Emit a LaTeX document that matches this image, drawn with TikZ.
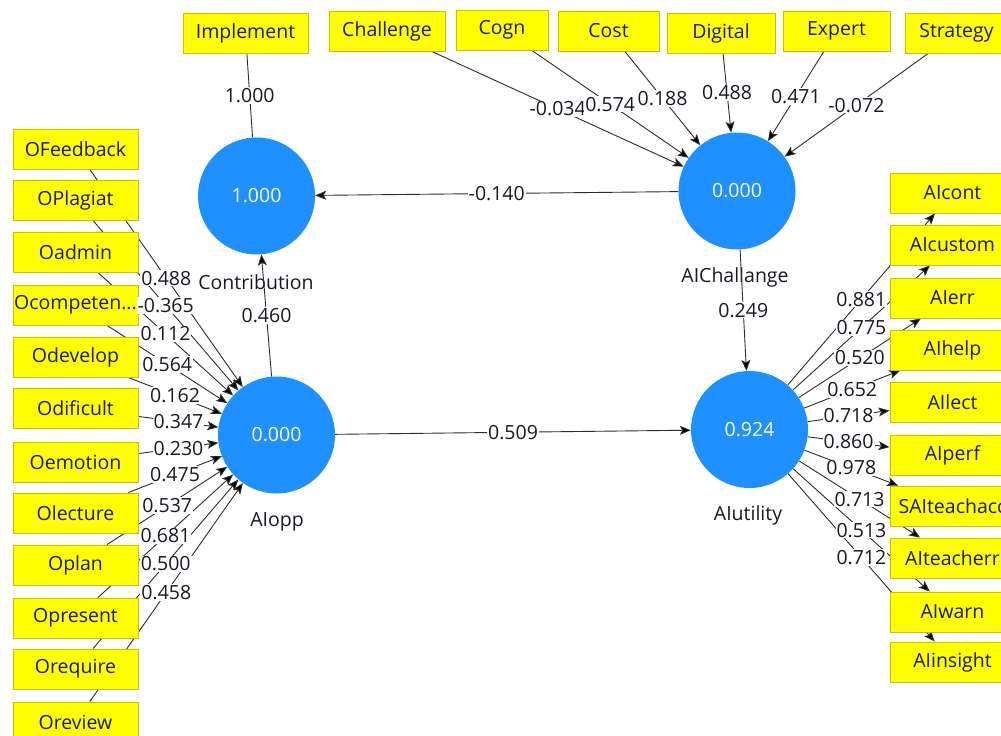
\documentclass[tikz,border=0pt]{standalone}
\usepackage{fontspec}
\setmainfont{Open Sans}
\usetikzlibrary{arrows.meta}
\definecolor{lvblue}{RGB}{30,144,255}
\definecolor{boxyellow}{RGB}{255,255,0}
\definecolor{boxborder}{RGB}{196,196,0}
\definecolor{linegray}{RGB}{45,45,45}
\definecolor{txtdark}{RGB}{25,25,35}
\newcommand\ocomptext{Ocompeten...}
\pgfdeclarelayer{back}
\pgfsetlayers{back,main}
\tikzset{
  ind/.style={draw=boxborder, line width=1pt, fill=boxyellow, minimum height=40pt, inner sep=0pt, text=txtdark},
  lv/.style={circle, fill=lvblue, minimum size=117pt, inner sep=0pt, text=white},
  lvname/.style={inner sep=0pt, text=txtdark},
  lbl/.style={fill=white, inner sep=1pt, text=txtdark},
  conn/.style={draw=linegray, line width=0.9pt},
  arr/.style={conn, -{Stealth[length=11pt,width=9pt,inset=2.5pt,fill=black]}}
}
\begin{document}
\begin{tikzpicture}[x=1pt,y=-1pt, font=\fontsize{19.5}{23}\selectfont]
\useasboundingbox (0,0) rectangle (1001,736);
\clip (0,0) rectangle (1001,736);
% latent variables
\node[lv] (contr) at (256.5,196) {1.000};
\node[lv] (aich) at (737,191) {0.000};
\node[lv] (aiopp) at (276.5,435) {0.000};
\node[lv] (aiut) at (749.5,429.5) {0.924};
% top indicators
\node[ind, minimum width=125pt] (imp) at (245.5,33) {Implement};
\node[ind, minimum width=116pt] (chal) at (387,31) {Challenge};
\node[ind, minimum width=92pt] (cogn) at (502,30) {Cogn};
\node[ind, minimum width=101pt] (cost) at (608.5,31) {Cost};
\node[ind, minimum width=108pt] (digi) at (721,33) {Digital};
\node[ind, minimum width=107pt] (expe) at (836.5,31) {Expert};
\node[ind, minimum width=103pt] (stra) at (956.5,33) {Strategy};
% left indicators
\foreach \n/\y/\t in {l1/149/OFeedback, l2/200/OPlagiat, l3/252/Oadmin, l4/305/\ocomptext, l5/357/Odevelop, l6/408/Odificult, l7/462/Oemotion, l8/513/Olecture, l9/565/Oplan, l10/618/Opresent, l11/669/Orequire, l12/722/Oreview}
  \node[ind, minimum width=125pt] (\n) at (75.5,\y) {\t};
% right indicators
\foreach \n/\y/\t in {r1/193/AIcont, r2/245/AIcustom, r3/298/AIerr, r4/350/AIhelp, r5/402/AIlect, r6/455/AIperf, r7/506/SAIteachacc, r8/558/AIteacherr, r9/612/AIwarn, r10/662/AIinsight}
  \node[ind, minimum width=125pt] (\n) at (952.5,\y) {\t};
\begin{pgfonlayer}{back}
% construct names (beneath connectors)
\node[lvname] (contrn) at (256,282) {Contribution};
\node[lvname] (aichn) at (735,277) {AIChallange};
\node[lvname] (aioppn) at (277,522) {AIopp};
\node[lvname] (aiutn) at (748,515) {AIutility};
% connectors
\draw[conn] (imp) -- coordinate[midway] (m-imp) (contr);
\foreach \n in {chal,cogn,cost,digi,expe,stra}
  \draw[arr] (\n) -- coordinate[midway] (m-\n) (aich);
\foreach \n in {l1,l2,l3,l4,l5,l6,l7,l8,l9,l10,l11,l12}
  \draw[arr] (\n) -- coordinate[midway] (m-\n) (aiopp);
\foreach \n in {r1,r2,r3,r4,r5,r6,r7,r8,r9,r10}
  \draw[arr] (aiut) -- coordinate[midway] (m-\n) (\n);
\draw[arr] (aich) -- coordinate[midway] (m-cc) (contr);
\draw[arr] (aiopp) -- coordinate[midway] (m-oc) (contr);
\draw[arr] (aiopp) -- coordinate[midway] (m-ou) (aiut);
\draw[arr] (aich) -- coordinate[midway] (m-cu) (aiut);
\end{pgfonlayer}
% path labels
\node[lbl] at (m-imp) {1.000};
\foreach \n/\t in {chal/-0.034, cogn/0.574, cost/0.188, digi/0.488, expe/0.471, stra/-0.072}
  \node[lbl] at (m-\n) {\t};
\foreach \n/\t in {l1/0.488, l2/-0.365, l3/0.112, l4/0.564, l5/0.162, l6/0.347, l7/0.230, l8/0.475, l9/0.537, l10/0.681, l11/0.500, l12/0.458}
  \node[lbl] at (m-\n) {\t};
\foreach \n/\t in {r1/0.881, r2/0.775, r3/0.520, r4/0.652, r5/0.718, r6/0.860, r7/0.978, r8/0.713, r9/0.513, r10/0.712}
  \node[lbl] at (m-\n) {\t};
\node[lbl] at (m-cc) {-0.140};
\node[lbl] at (m-oc) {0.460};
\node[lbl] at (m-ou) {0.509};
\node[lbl] at (m-cu) {0.249};
\end{tikzpicture}
\end{document}
